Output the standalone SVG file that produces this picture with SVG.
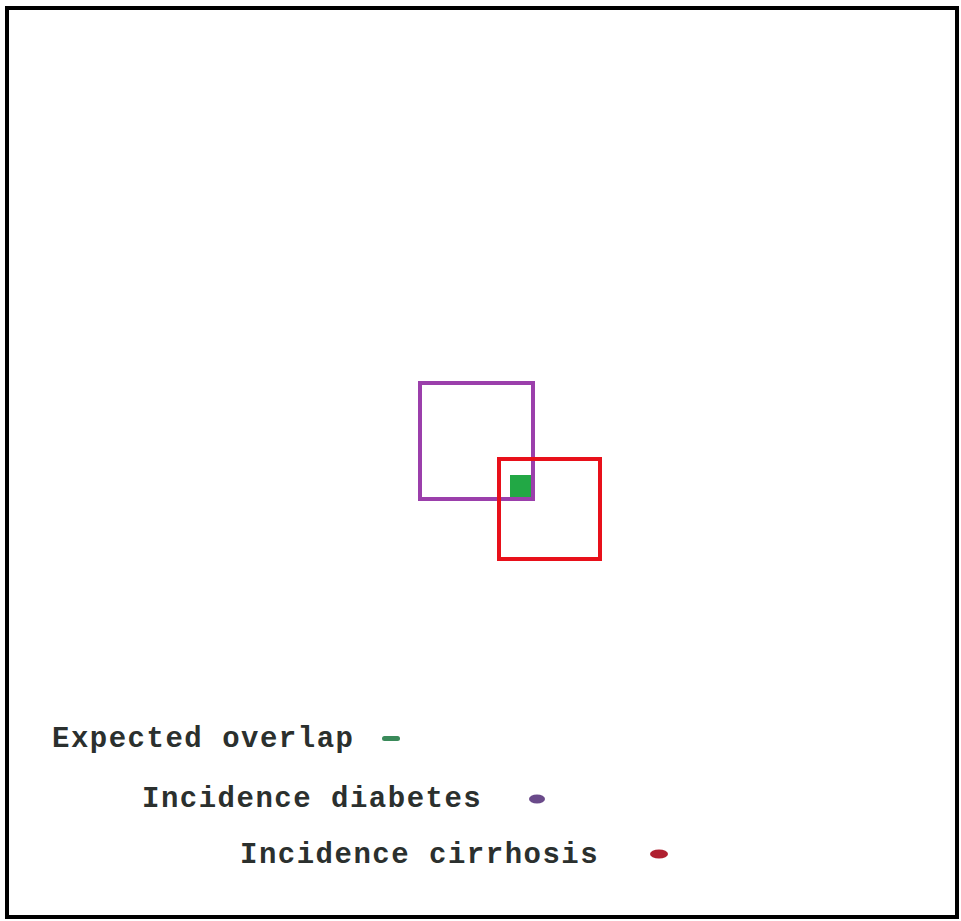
<svg xmlns="http://www.w3.org/2000/svg" width="961" height="921" viewBox="0 0 961 921">
<style>
.lbl{font-family:"Liberation Mono","Courier New",monospace;font-weight:bold;font-size:29px;fill:#2b302e;letter-spacing:1.5px}
.box{fill:none;stroke-width:4}
</style>
<rect x="0" y="0" width="961" height="921" fill="#ffffff"/>
<rect id="frame" x="7" y="8" width="950" height="909" fill="none" stroke="#000" stroke-width="4"/>
<g id="diabetes"><rect class="box" x="420" y="383" width="113" height="116" stroke="#9b3fab"/></g>
<g id="cirrhosis"><rect class="box" x="499" y="459" width="101" height="100" stroke="#e8101a"/></g>
<g id="overlap"><rect x="510" y="475" width="21" height="22" fill="#22a845"/></g>
<g id="legend">
<text class="lbl" x="52" y="747">Expected overlap</text>
<rect x="382" y="736" width="18" height="5" rx="2.5" fill="#3a8a5a"/>
<text class="lbl" x="142" y="807">Incidence diabetes</text>
<ellipse cx="537" cy="799" rx="8" ry="4.5" fill="#6a4a8a"/>
<text class="lbl" x="240" y="863">Incidence cirrhosis</text>
<ellipse cx="659" cy="854" rx="9" ry="4.5" fill="#b02030"/>
</g>
</svg>
